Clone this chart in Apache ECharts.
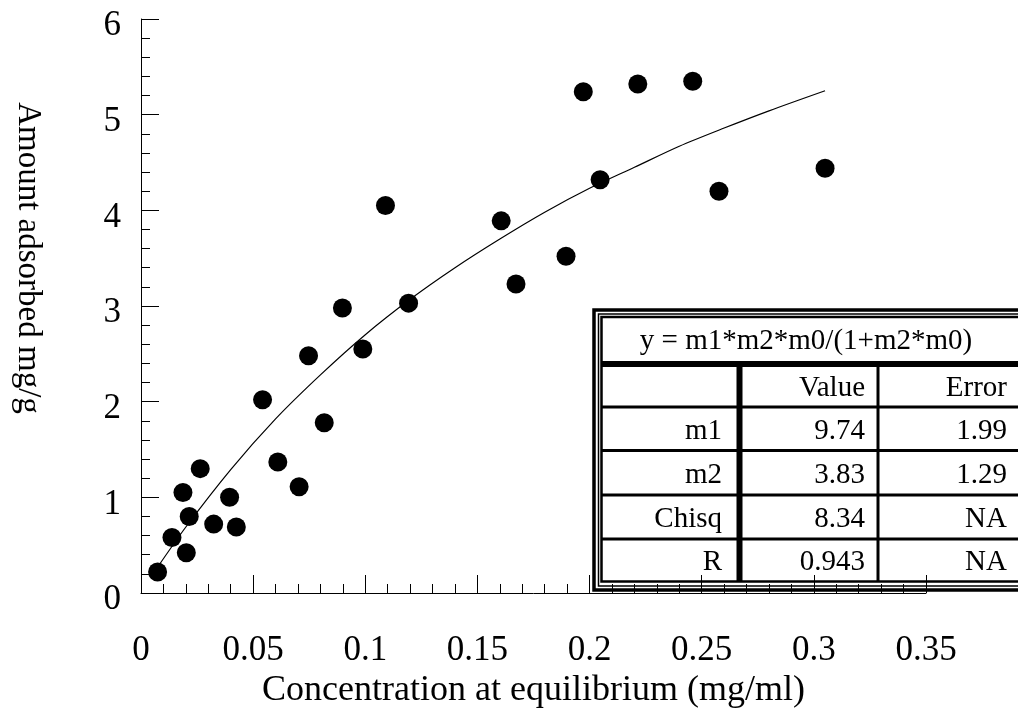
<!DOCTYPE html>
<html>
<head>
<meta charset="utf-8">
<title>Amount adsorbed vs concentration</title>
<script src="https://cdn.jsdelivr.net/npm/echarts@6.0.0/dist/echarts.min.js"></script>
<style>
  html, body { margin: 0; padding: 0; background: #fff; }
  #chart { width: 1018px; height: 724px; }
</style>
</head>
<body>
<div id="chart"></div>
<script>
// measured points (concentration mg/ml, amount mg/g)
const concX = [0.0074, 0.0138, 0.0202, 0.0187, 0.0215, 0.0264, 0.0324, 0.0395, 0.0425,
  0.0542, 0.0610, 0.0705, 0.0747, 0.0817, 0.0898, 0.0989, 0.1090, 0.1193, 0.1606,
  0.1672, 0.1895, 0.1972, 0.2047, 0.2215, 0.2460, 0.2577, 0.3050]
const amountY = [0.22, 0.58, 0.42, 1.05, 0.80, 1.30, 0.72, 1.00, 0.69,
  2.02, 1.37, 1.11, 2.48, 1.78, 2.98, 2.55, 4.05, 3.03, 3.89,
  3.23, 3.52, 5.24, 4.32, 5.32, 5.35, 4.20, 4.44]

// fitted curve
const fitX = [0.0074, 0.02, 0.04, 0.06, 0.08, 0.10, 0.12, 0.14, 0.16, 0.18, 0.20, 0.22, 0.24, 0.26, 0.28, 0.305]
const fitY = [0.27, 0.69, 1.29, 1.82, 2.28, 2.70, 3.07, 3.40, 3.70, 3.98, 4.23, 4.45, 4.67, 4.86, 5.04, 5.25]

const xTickLabels = ['0', '0.05', '0.1', '0.15', '0.2', '0.25', '0.3', '0.35']
const yTickLabels = ['0', '1', '2', '3', '4', '5', '6']

// fit result table
const fitEquation = 'y = m1*m2*m0/(1+m2*m0)'
const tableHeader = ['', 'Value', 'Error']
const paramNames = ['m1', 'm2', 'Chisq', 'R']
const paramValues = ['9.74', '3.83', '8.34', '0.943']
const paramErrors = ['1.99', '1.29', 'NA', 'NA']

const FONT = 'Liberation Serif'

const buildTable = () => {
  const els = []
  const cellFont = { fontFamily: FONT, fontSize: 29, fill: '#000', verticalAlign: 'middle' }
  // triple border
  els.push({ type: 'rect', shape: { x: 594, y: 310, width: 440, height: 280 }, style: { fill: '#fff', stroke: '#000', lineWidth: 3.5 } })
  els.push({ type: 'rect', shape: { x: 598.5, y: 314, width: 430, height: 272 }, style: { fill: 'none', stroke: '#000', lineWidth: 1.5 } })
  els.push({ type: 'rect', shape: { x: 601.5, y: 317, width: 420, height: 264.5 }, style: { fill: 'none', stroke: '#000', lineWidth: 2.5 } })
  // title row
  els.push({ type: 'text', x: 806, y: 341, style: Object.assign({ text: fitEquation, align: 'center' }, cellFont) })
  els.push({ type: 'line', shape: { x1: 601, y1: 364, x2: 1022, y2: 364 }, style: { stroke: '#000', lineWidth: 6 } })
  // rows
  const rowLines = [407, 450.5, 495, 539]
  rowLines.forEach(y => {
    els.push({ type: 'line', shape: { x1: 601, y1: y, x2: 1022, y2: y }, style: { stroke: '#000', lineWidth: 3 } })
  })
  els.push({ type: 'line', shape: { x1: 739.5, y1: 364, x2: 739.5, y2: 581.5 }, style: { stroke: '#000', lineWidth: 6 } })
  els.push({ type: 'line', shape: { x1: 878, y1: 364, x2: 878, y2: 581.5 }, style: { stroke: '#000', lineWidth: 3 } })

  const colRight = [722, 865, 1007]
  const rowMid = [388, 431, 475, 519, 562]
  const rows = [tableHeader].concat(paramNames.map((n, i) => [n, paramValues[i], paramErrors[i]]))
  rows.forEach((row, r) => {
    row.forEach((txt, c) => {
      if (!txt) return
      els.push({ type: 'text', x: colRight[c], y: rowMid[r], style: Object.assign({ text: txt, align: 'right' }, cellFont) })
    })
  })
  return { type: 'group', z: 100, children: els }
}

const chart = echarts.init(document.getElementById('chart'))

chart.setOption({
  animation: false,
  backgroundColor: '#fff',
  textStyle: { fontFamily: FONT, color: '#000' },
  grid: { left: 141, top: 19, right: 92, bottom: 131 },
  xAxis: {
    type: 'value',
    min: 0,
    max: 0.35,
    interval: 0.05,
    name: 'Concentration at equilibrium (mg/ml)',
    nameLocation: 'middle',
    nameGap: 71,
    nameTextStyle: { fontFamily: FONT, fontSize: 36, color: '#000' },
    axisLine: { lineStyle: { color: '#000', width: 1 } },
    axisTick: { inside: true, length: 18, lineStyle: { color: '#000' } },
    minorTick: { show: true, splitNumber: 5, length: 9, lineStyle: { color: '#000' } },
    splitLine: { show: false },
    axisLabel: {
      fontFamily: FONT,
      fontSize: 35,
      color: '#000',
      margin: 40,
      formatter: (v, i) => xTickLabels[i]
    }
  },
  yAxis: {
    type: 'value',
    min: 0,
    max: 6,
    interval: 1,
    axisLine: { show: true, lineStyle: { color: '#000', width: 1 } },
    axisTick: { show: true, inside: true, length: 18, lineStyle: { color: '#000' } },
    minorTick: { show: true, splitNumber: 5, length: 9, lineStyle: { color: '#000' } },
    splitLine: { show: false },
    axisLabel: {
      margin: 20,
      formatter: (v, i) => '{n|' + yTickLabels[i] + '}',
      rich: {
        n: { fontFamily: FONT, fontSize: 35, color: '#000', padding: [14, 0, 0, 0] }
      }
    }
  },
  graphic: [
    {
      type: 'text',
      x: 28,
      y: 258,
      rotation: -Math.PI / 2,
      style: {
        text: 'Amount adsorbed mg/g',
        fontFamily: FONT,
        fontSize: 33,
        fill: '#000',
        align: 'center',
        verticalAlign: 'middle'
      }
    },
    buildTable()
  ],
  series: [
    {
      type: 'line',
      data: fitX.map((x, i) => [x, fitY[i]]),
      showSymbol: false,
      smooth: 0.3,
      lineStyle: { color: '#000', width: 1.2 },
      z: 2
    },
    {
      type: 'scatter',
      data: concX.map((x, i) => [x, amountY[i]]),
      symbol: 'circle',
      symbolSize: 19,
      itemStyle: { color: '#000', opacity: 1 },
      z: 3
    }
  ]
})
</script>
</body>
</html>
